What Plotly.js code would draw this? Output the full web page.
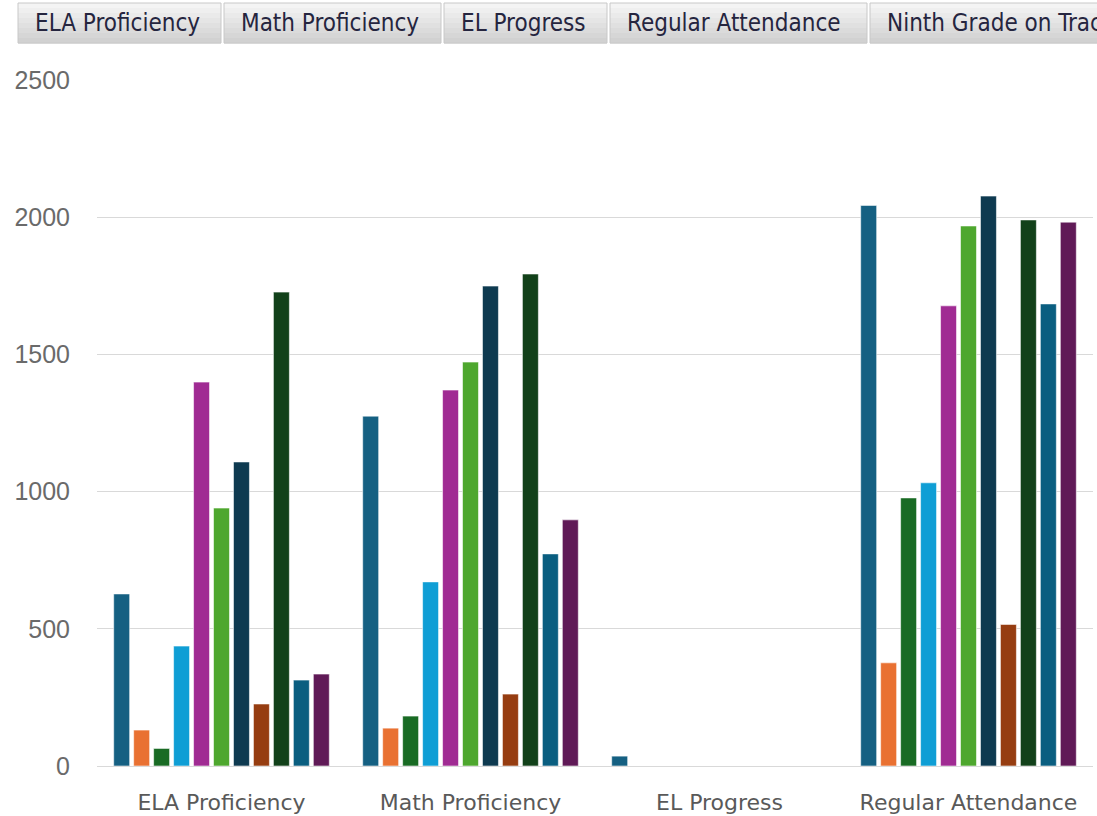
<!DOCTYPE html>
<html>
<head>
<meta charset="utf-8">
<script src="https://cdn.plot.ly/plotly-3.0.1.min.js"></script>
<style>
  html, body { margin: 0; padding: 0; background: #ffffff; }
  #chart { width: 1097px; height: 816px; }
</style>
</head>
<body>
<div id="chart"></div>
<script>
// ---------- data ----------
const categories = ["ELA Proficiency", "Math Proficiency", "EL Progress", "Regular Attendance"];
const slicerLabels = ["ELA Proficiency", "Math Proficiency", "EL Progress", "Regular Attendance", "Ninth Grade on Track"];

const series1  = [627, 1275, 36, 2043];
const series2  = [131, 138, null, 376];
const series3  = [64, 182, null, 977];
const series4  = [437, 671, null, 1032];
const series5  = [1399, 1370, null, 1677];
const series6  = [940, 1472, null, 1968];
const series7  = [1108, 1749, null, 2077];
const series8  = [226, 262, null, 516];
const series9  = [1727, 1793, null, 1990];
const series10 = [313, 773, null, 1684];
const series11 = [335, 897, null, 1982];

const seriesValues = [series1, series2, series3, series4, series5, series6,
                      series7, series8, series9, series10, series11];
const seriesNames = ["Series 1", "Series 2", "Series 3", "Series 4", "Series 5", "Series 6",
                     "Series 7", "Series 8", "Series 9", "Series 10", "Series 11"];
const seriesColors = ["#156082", "#E97132", "#196B24", "#0F9ED5", "#A02B93", "#4EA72E",
                      "#0E3A50", "#963D11", "#12411A", "#0A5E80", "#601A57"];

const yTicks = [0, 500, 1000, 1500, 2000, 2500];

// ---------- layout helpers ----------
const W = 1097, H = 816;
const M = {l: 97, r: 4, t: 80, b: 50};
const PW = W - M.l - M.r, PH = H - M.t - M.b;
const px = x => (x - M.l) / PW;
const py = y => (H - M.b - y) / PH;

const traces = seriesValues.map((vals, i) => ({
  type: "bar",
  name: seriesNames[i],
  x: categories,
  y: vals,
  marker: { color: seriesColors[i], line: { color: "rgba(255,255,255,0.7)", width: 0.8 } },
  hoverinfo: "x+y+name"
}));

// slicer buttons
const btnLefts  = [18, 224, 444, 610, 870];
const btnRights = [221, 441, 607, 867, 1110];
const btnTop = 3, btnBot = 43;
const shapes = [];
const annotations = [];
const grad = ["#f4f4f4", "#efefef", "#eaeaea", "#e5e5e5", "#e0e0e0", "#dbdbdb", "#d6d6d6", "#d1d1d1"];
btnLefts.forEach((l, i) => {
  const r = btnRights[i];
  const stripH = (btnBot - btnTop) / grad.length;
  grad.forEach((c, k) => {
    shapes.push({
      type: "rect", xref: "paper", yref: "paper", layer: "above",
      x0: px(l), x1: px(r),
      y0: py(btnTop + k * stripH), y1: py(btnTop + (k + 1) * stripH + 0.5),
      fillcolor: c, line: { width: 0 }
    });
  });
  shapes.push({
    type: "rect", xref: "paper", yref: "paper", layer: "above",
    x0: px(l), x1: px(r), y0: py(btnTop), y1: py(btnBot),
    fillcolor: "rgba(0,0,0,0)", line: { color: "#c8c8c8", width: 1 }
  });
  annotations.push({
    xref: "paper", yref: "paper", x: px(l + 15), y: py(23),
    xanchor: "left", yanchor: "middle", showarrow: false,
    text: slicerLabels[i],
    font: { family: "DejaVu Sans Condensed, DejaVu Sans, sans-serif", size: 24, color: "#25253f" }
  });
});

const layout = {
  width: W, height: H,
  margin: M,
  paper_bgcolor: "#ffffff",
  plot_bgcolor: "#ffffff",
  showlegend: false,
  barmode: "group",
  bargap: 0.118,
  bargroupgap: 0.2,
  xaxis: {
    type: "category",
    range: [-0.5, 3.5],
    showgrid: false,
    showline: false,
    ticks: "",
    ticklabelstandoff: 21,
    tickfont: { family: "DejaVu Sans, sans-serif", size: 22, color: "#595959" },
    fixedrange: true
  },
  yaxis: {
    range: [0, 2500],
    tickvals: yTicks,
    ticktext: yTicks.map(String),
    showgrid: true,
    gridcolor: "#d9d9d9",
    gridwidth: 1,
    zeroline: true,
    zerolinecolor: "#d9d9d9",
    zerolinewidth: 1,
    showline: false,
    ticks: "",
    ticklabelstandoff: 26,
    tickfont: { family: "Liberation Sans, Arial, sans-serif", size: 25, color: "#6a6a6a" },
    fixedrange: true
  },
  shapes: shapes,
  annotations: annotations
};

Plotly.newPlot("chart", traces, layout, { displayModeBar: false, staticPlot: true });
</script>
</body>
</html>
